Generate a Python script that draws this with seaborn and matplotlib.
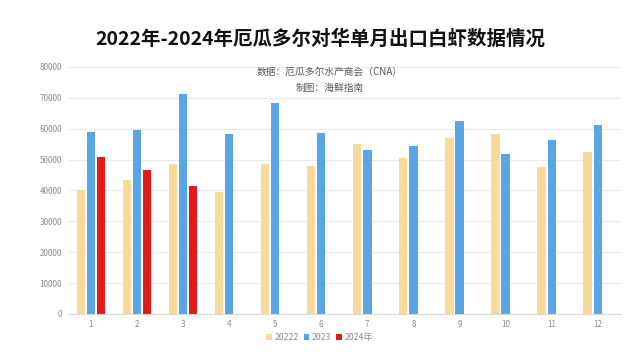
import matplotlib
matplotlib.use("Agg")
import matplotlib.pyplot as plt
import seaborn as sns
import pandas as pd
import numpy as np

months = ["1", "2", "3", "4", "5", "6", "7", "8", "9", "10", "11", "12"]
series_names = ["20222", "2023", "2024年"]
v2022 = [40000, 43400, 48700, 39400, 48700, 47800, 55200, 50400, 56900, 58200, 47700, 52300]
v2023 = [58900, 59500, 71100, 58300, 68400, 58700, 53100, 54500, 62400, 51800, 56300, 61200]
v2024 = [50800, 46500, 41500, np.nan, np.nan, np.nan, np.nan, np.nan, np.nan, np.nan, np.nan, np.nan]
colors = ["#F8DA9C", "#5AA5E6", "#E3191C"]

sns.set_theme(style="white")
plt.rcParams['font.family'] = ['Noto Sans CJK SC', 'DejaVu Sans']

rows = []
for name, vals in zip(series_names, [v2022, v2023, v2024]):
    for m, v in zip(months, vals):
        rows.append({"month": m, "series": name, "value": v})
df = pd.DataFrame(rows)

fig = plt.figure(figsize=(6.4, 3.58), dpi=100)
ax = fig.add_axes([0.106, 0.123, 0.864, 0.690])
sns.barplot(data=df, x="month", y="value", hue="series", order=months,
            hue_order=series_names, palette=colors, width=0.66, gap=0.18,
            ax=ax, legend=True, saturation=1, linewidth=0)

ax.set_ylim(0, 80000)
ax.set_yticks(range(0, 80001, 10000))
ax.set_yticklabels([str(t) for t in range(0, 80001, 10000)])
ax.yaxis.grid(True, color="#EBEBEB", linewidth=0.8)
ax.set_axisbelow(True)
for s in ["top", "right", "left"]:
    ax.spines[s].set_visible(False)
ax.spines["bottom"].set_color("#D9D9D9")
ax.spines["bottom"].set_linewidth(0.8)
ax.tick_params(axis="both", length=0, labelsize=5.8, colors="#8C8C8C", pad=4)
ax.set_xlabel("")
ax.set_ylabel("")

leg = ax.legend(loc="upper center", bbox_to_anchor=(0.455, -0.045), ncol=3, frameon=False,
                fontsize=6.3, handlelength=0.6, handleheight=0.6, handletextpad=0.3,
                columnspacing=0.6, labelcolor="#8C8C8C")

fig.text(0.5, 0.89, "2022年-2024年厄瓜多尔对华单月出口白虾数据情况", ha="center", va="center",
         fontsize=14, fontweight="bold", color="#111111")
fig.text(0.515, 0.800, "数据：厄瓜多尔水产商会（CNA）", ha="center", va="center",
         fontsize=7, color="#595959")
fig.text(0.515, 0.753, "制图：海鲜指南", ha="center", va="center",
         fontsize=7, color="#595959")

fig.savefig("out.png", dpi=100)
